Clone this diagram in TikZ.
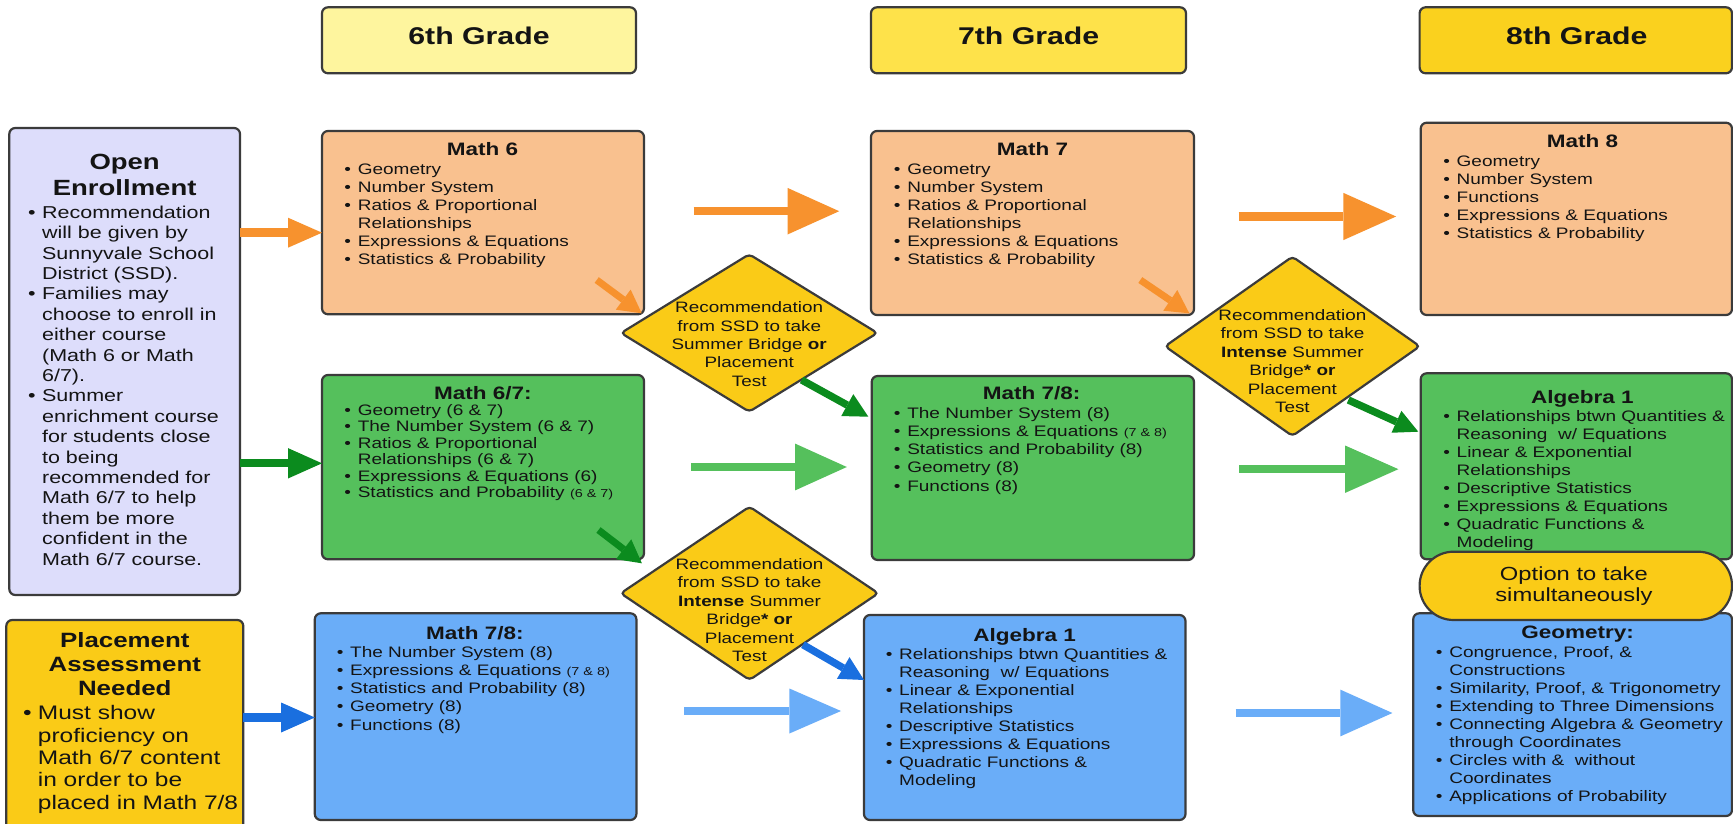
\documentclass[tikz,border=0pt]{standalone}
\usepackage{fontspec}
\setmainfont[FakeStretch=1.25]{Liberation Sans}
\usetikzlibrary{arrows.meta,shapes.geometric}
\definecolor{bord}{HTML}{3B3B3B}
\definecolor{txt}{HTML}{141414}
\definecolor{peach}{HTML}{F9C18F}
\definecolor{grn}{HTML}{55C05C}
\definecolor{blu}{HTML}{6AADF8}
\definecolor{lav}{HTML}{DDDDFB}
\definecolor{gold}{HTML}{FACB17}
\definecolor{ysix}{HTML}{FEF59E}
\definecolor{yseven}{HTML}{FEE24A}
\definecolor{yeight}{HTML}{FAD11E}
\definecolor{orng}{HTML}{F7922E}
\definecolor{dkgrn}{HTML}{0B8B1E}
\definecolor{dblu}{HTML}{1A6FDF}
\newcommand{\fl}[1]{\rule{0pt}{#1pt}}
\newcommand{\bi}{\makebox[13.4pt][l]{•}}
\newcommand{\ci}{\hspace*{13.4pt}}
\newcommand{\bo}{\makebox[14pt][l]{•}}
\newcommand{\co}{\hspace*{14pt}}
\newcommand{\bp}{\makebox[14.7pt][l]{•}}
\newcommand{\cp}{\hspace*{14.7pt}}
\newcommand{\sm}[1]{{\fontsize{11.5}{11.5}\selectfont #1}}
\tikzset{
  box/.style={draw=bord, line width=2.2pt, rounded corners=6pt, inner sep=0pt, outer sep=0pt},
  dia/.style={diamond, draw=bord, line width=2.2pt, fill=gold, rounded corners=4pt, inner sep=0pt, outer sep=0pt},
  lst/.style={anchor=north west, align=left, inner sep=0pt, outer sep=0pt, text=txt, font={\fontsize{15.2}{18.05}\selectfont}},
  ttl/.style={anchor=base, inner sep=0pt, outer sep=0pt, text=txt, font={\bfseries\fontsize{18}{22}\selectfont}},
  hdr/.style={anchor=base, inner sep=0pt, outer sep=0pt, text=txt, font={\bfseries\fontsize{24.2}{28}\selectfont}},
  dtxt/.style={anchor=north, align=center, inner sep=0pt, outer sep=0pt, text=txt, font={\fontsize{15.1}{18.4}\selectfont}},
  blk/.style n args={4}{draw=#1, line width=#2, -{Triangle[length=#3, width=#4, line width=0pt]}}
}
\begin{document}
\begin{tikzpicture}[x=1pt, y=-1pt]
\path[use as bounding box] (0,0) rectangle (1733,824);
\clip (0,0) rectangle (1733,824);
\fill[white] (0,0) rectangle (1733,824);
% grade headers
\node[box, fill=ysix, minimum width=314pt, minimum height=66pt] (g6) at (479,40.3) {};
\node[box, fill=yseven, minimum width=315pt, minimum height=66pt] (g7) at (1028.5,40.3) {};
\node[box, fill=yeight, minimum width=312.4pt, minimum height=66pt] (g8) at (1575.8,40.3) {};
\node[hdr] (g6t) at (479,45) {6th Grade};
\node[hdr] (g7t) at (1028.6,45) {7th Grade};
\node[hdr] (g8t) at (1576.8,45) {8th Grade};
% left boxes
\node[box, fill=lav, minimum width=230.7pt, minimum height=467pt] (oe) at (124.65,361.5) {};
\node[box, fill=gold, minimum width=237pt, minimum height=215pt] (pa) at (124.8,727.5) {};
% course boxes
\node[box, fill=peach, minimum width=322pt, minimum height=183.3pt] (m6) at (483,222.65) {};
\node[box, fill=grn, minimum width=322pt, minimum height=184.3pt] (m67) at (483,467.15) {};
\node[box, fill=blu, minimum width=321.6pt, minimum height=206.7pt] (m78b) at (475.6,716.65) {};
\node[box, fill=peach, minimum width=323pt, minimum height=184pt] (m7) at (1032.5,223) {};
\node[box, fill=grn, minimum width=322.3pt, minimum height=184pt] (m78g) at (1032.85,468) {};
\node[box, fill=blu, minimum width=321.5pt, minimum height=205pt] (a1b) at (1024.75,717.5) {};
\node[box, fill=peach, minimum width=311.3pt, minimum height=192.3pt] (m8) at (1576.35,218.85) {};
\node[box, fill=grn, minimum width=311.3pt, minimum height=186pt] (a1g) at (1576.35,466.3) {};
\node[box, fill=blu, minimum width=318.8pt, minimum height=202.7pt] (geo) at (1572.6,714.65) {};
% diamonds
\node[dia, minimum width=256.4pt, minimum height=157.4pt] (d1) at (749.2,333) {};
\node[dia, minimum width=257.6pt, minimum height=173.3pt] (d2) at (749.5,593.3) {};
\node[dia, minimum width=254.7pt, minimum height=179.3pt] (d3) at (1292.4,346.3) {};
% arrows
\coordinate (a4s) at (693.7,211.2); \coordinate (a4e) at (839.2,211.2);
\coordinate (a5s) at (691,467); \coordinate (a5e) at (846.8,467);
\coordinate (a6s) at (684.2,711); \coordinate (a6e) at (841,711);
\coordinate (a7s) at (1238.5,216.5); \coordinate (a7e) at (1396.1,216.5);
\coordinate (a8s) at (1239.2,469.2); \coordinate (a8e) at (1398.4,469.2);
\coordinate (a9s) at (1235.5,713); \coordinate (a9e) at (1392.4,713);
\coordinate (s1s) at (596.7,280); \coordinate (s1e) at (641.7,313.3);
\coordinate (s2s) at (1140.3,280); \coordinate (s2e) at (1189.3,313.3);
\coordinate (s3s) at (598.5,530); \coordinate (s3e) at (641.9,563.3);
\coordinate (s4s) at (801.7,380); \coordinate (s4e) at (868.3,416.7);
\coordinate (s5s) at (803,644.7); \coordinate (s5e) at (864,680);
\coordinate (s6s) at (1348.3,400); \coordinate (s6e) at (1418.3,431.7);
\draw[blk={orng}{9pt}{34pt}{30pt}] (oe.east |- 0,232.7) -- (m6.west |- 0,232.7);
\draw[blk={dkgrn}{8pt}{34pt}{30.4pt}] (oe.east |- 0,463.3) -- (m67.west |- 0,463.3);
\draw[blk={dblu}{8.4pt}{33.7pt}{30pt}] (pa.east |- 0,717.5) -- (m78b.west |- 0,717.5);
\draw[blk={orng}{7.7pt}{51.7pt}{46.6pt}] (a4s) -- (a4e);
\draw[blk={grn}{7.3pt}{51.6pt}{46.7pt}] (a5s) -- (a5e);
\draw[blk={blu}{7.7pt}{51.6pt}{45pt}] (a6s) -- (a6e);
\draw[blk={orng}{8.4pt}{52.8pt}{47.3pt}] (a7s) -- (a7e);
\draw[blk={grn}{8.3pt}{53.2pt}{47.3pt}] (a8s) -- (a8e);
\draw[blk={blu}{7.4pt}{52pt}{46.7pt}] (a9s) -- (a9e);
\draw[blk={orng}{7pt}{23pt}{25pt}] (s1s) -- (s1e);
\draw[blk={orng}{7pt}{23pt}{25pt}] (s2s) -- (s2e);
\draw[blk={dkgrn}{7pt}{23pt}{25pt}] (s3s) -- (s3e);
\draw[blk={dkgrn}{7.4pt}{24pt}{25pt}] (s4s) -- (s4e);
\draw[blk={dblu}{7.4pt}{24pt}{25pt}] (s5s) -- (s5e);
\draw[blk={dkgrn}{7.4pt}{24pt}{24pt}] (s6s) -- (s6e);
% left box texts
\node[anchor=north, align=center, inner sep=0pt, outer sep=0pt, text=txt, font={\bfseries\fontsize{22}{26}\selectfont}] (oet) at (124.65,153.4) {\fl{16.5}Open\\Enrollment};
\node[lst, font={\fontsize{17.2}{20.4}\selectfont}] (oel) at (28.1,205.3) {\fl{12.9}\bo Recommendation\\\co will be given by\\\co Sunnyvale School\\\co District (SSD).\\\bo Families may\\\co choose to enroll in\\\co either course\\\co (Math 6 or Math\\\co 6/7).\\\bo Summer\\\co enrichment course\\\co for students close\\\co to being\\\co recommended for\\\co Math 6/7 to help\\\co them be more\\\co confident in the\\\co Math 6/7 course.};
\node[anchor=north, align=center, inner sep=0pt, outer sep=0pt, text=txt, font={\bfseries\fontsize{20.7}{24}\selectfont}] (pat) at (124.8,631.9) {\fl{15.5}Placement\\Assessment\\Needed};
\node[lst, font={\fontsize{19.6}{22.4}\selectfont}] (pal) at (23.2,705) {\fl{14.7}\bp Must show\\\cp proficiency on\\\cp Math 6/7 content\\\cp in order to be\\\cp placed in Math 7/8};
% course texts
\node[ttl] (m6t) at (482.6,155.2) {Math 6};
\node[lst] (m6l) at (344.4,162.8) {\fl{11.4}\bi Geometry\\\bi Number System\\\bi Ratios \& Proportional\\\ci Relationships\\\bi Expressions \& Equations\\\bi Statistics \& Probability};
\node[ttl] (m67t) at (482.8,399.2) {Math 6/7:};
\node[lst, font={\fontsize{15.2}{16.4}\selectfont}] (m67l) at (344.4,404.1) {\fl{11.4}\bi Geometry (6 \& 7)\\\bi The Number System (6 \& 7)\\\bi Ratios \& Proportional\\\ci Relationships (6 \& 7)\\\bi Expressions \& Equations (6)\\\bi Statistics and Probability \sm{(6 \& 7)}};
\node[ttl] (m78bt) at (474.8,639.2) {Math 7/8:};
\node[lst] (m78bl) at (336.8,646.4) {\fl{11.4}\bi The Number System (8)\\\bi Expressions \& Equations \sm{(7 \& 8)}\\\bi Statistics and Probability (8)\\\bi Geometry (8)\\\bi Functions (8)};
\node[ttl] (m7t) at (1032.4,155.2) {Math 7};
\node[lst] (m7l) at (893.9,162.8) {\fl{11.4}\bi Geometry\\\bi Number System\\\bi Ratios \& Proportional\\\ci Relationships\\\bi Expressions \& Equations\\\bi Statistics \& Probability};
\node[ttl] (m78gt) at (1031.6,399.8) {Math 7/8:};
\node[lst] (m78gl) at (893.9,407.4) {\fl{11.4}\bi The Number System (8)\\\bi Expressions \& Equations \sm{(7 \& 8)}\\\bi Statistics and Probability (8)\\\bi Geometry (8)\\\bi Functions (8)};
\node[ttl] (a1bt) at (1024.7,641.5) {Algebra 1};
\node[lst] (a1bl) at (885.8,648.1) {\fl{11.4}\bi Relationships btwn Quantities \&\\\ci Reasoning\ \ w/ Equations\\\bi Linear \& Exponential\\\ci Relationships\\\bi Descriptive Statistics\\\bi Expressions \& Equations\\\bi Quadratic Functions \&\\\ci Modeling};
\node[ttl] (m8t) at (1582.4,147.5) {Math 8};
\node[lst] (m8l) at (1443.3,155.1) {\fl{11.4}\bi Geometry\\\bi Number System\\\bi Functions\\\bi Expressions \& Equations\\\bi Statistics \& Probability};
\node[ttl] (a1gt) at (1582.4,403.2) {Algebra 1};
\node[lst] (a1gl) at (1443.3,410.1) {\fl{11.4}\bi Relationships btwn Quantities \&\\\ci Reasoning\ \ w/ Equations\\\bi Linear \& Exponential\\\ci Relationships\\\bi Descriptive Statistics\\\bi Expressions \& Equations\\\bi Quadratic Functions \&\\\ci Modeling};
\node[box, fill=gold, rounded corners=34pt, minimum width=312.4pt, minimum height=68.3pt] (opt) at (1575.8,585.85) {};
\node[anchor=north, align=center, inner sep=0pt, outer sep=0pt, text=txt, font={\fontsize{19}{21.7}\selectfont}] (optt) at (1573.9,565.9) {\fl{14.25}Option to take\\simultaneously};
\node[ttl] (geot) at (1577.6,638.2) {Geometry:};
\node[lst] (geol) at (1435.9,645.8) {\fl{11.4}\bi Congruence, Proof, \&\\\ci Constructions\\\bi Similarity, Proof, \& Trigonometry\\\bi Extending to Three Dimensions\\\bi Connecting Algebra \& Geometry\\\ci through Coordinates\\\bi Circles with \&\ \ without\\\ci Coordinates\\\bi Applications of Probability};
% diamond texts
\node[dtxt] (d1t) at (749.2,301.4) {\fl{11.3}Recommendation\\from SSD to take\\Summer Bridge \textbf{or}\\Placement\\Test};
\node[dtxt] (d2t) at (749.5,558.1) {\fl{11.3}Recommendation\\from SSD to take\\\textbf{Intense} Summer\\Bridge\textbf{* or}\\Placement\\Test};
\node[dtxt] (d3t) at (1292.4,309.1) {\fl{11.3}Recommendation\\from SSD to take\\\textbf{Intense} Summer\\Bridge\textbf{* or}\\Placement\\Test};
\end{tikzpicture}
\end{document}
